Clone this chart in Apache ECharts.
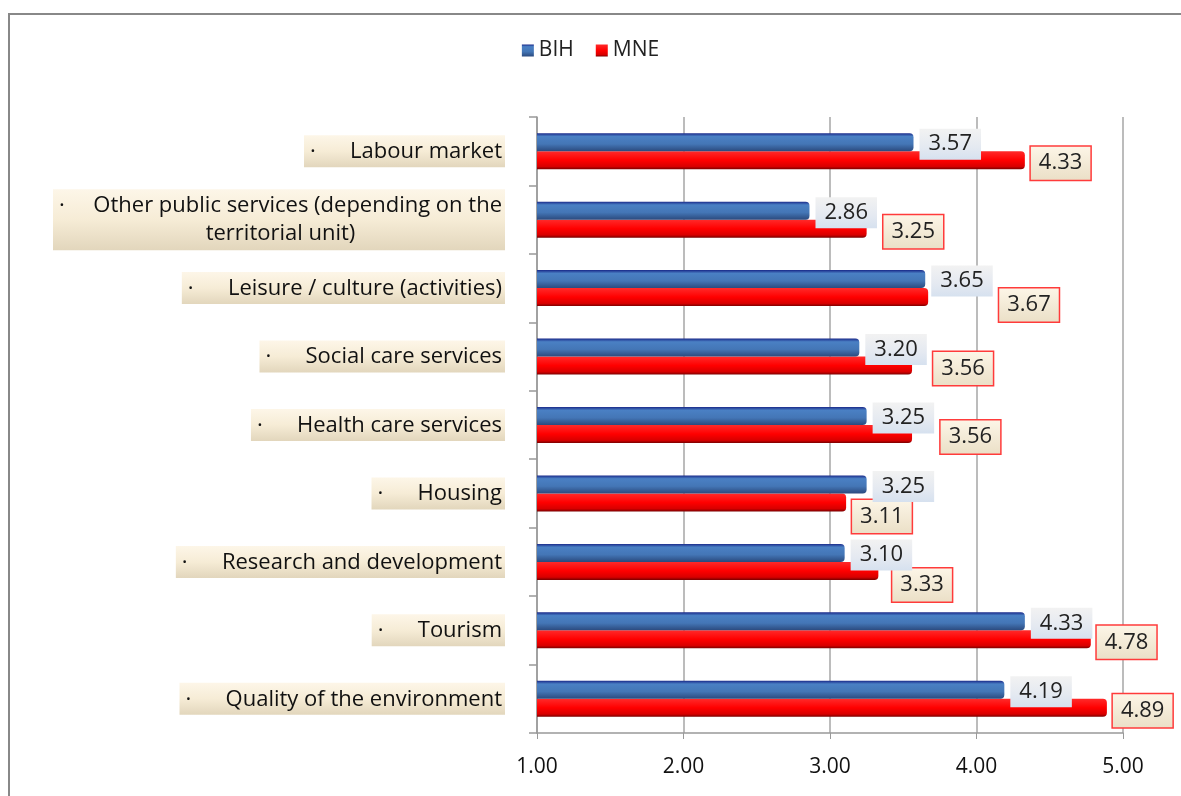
<!DOCTYPE html>
<html>
<head>
<meta charset="utf-8">
<script src="https://cdn.jsdelivr.net/npm/echarts@6/dist/echarts.min.js"></script>
<style>
  html, body { margin: 0; padding: 0; background: #fff; }
  #chart { width: 1181px; height: 796px; }
</style>
</head>
<body>
<div id="chart"></div>
<script>
// categories top to bottom
const categories = [
  'Labour market',
  'Other public services (depending on the territorial unit)',
  'Leisure / culture (activities)',
  'Social care services',
  'Health care services',
  'Housing',
  'Research and development',
  'Tourism',
  'Quality of the environment'
]
const bihValues = [3.57, 2.86, 3.65, 3.20, 3.25, 3.25, 3.10, 4.33, 4.19]
const mneValues = [4.33, 3.25, 3.67, 3.56, 3.56, 3.11, 3.33, 4.78, 4.89]
const xTicks = [1, 2, 3, 4, 5]

const font = 'Open Sans'
const gridLeft = 537
const gridRight = 58
const chartWidth = 1181
const chart = echarts.init(document.getElementById('chart'))

const grad = (stops) => new echarts.graphic.LinearGradient(0, 0, 0, 1,
  stops.map(([offset, color]) => ({offset, color})))

const bihColor = grad([[0, '#1a2a8a'], [0.18, '#4a80c4'], [0.6, '#4476b6'], [1, '#2b4a7e']])
const mneColor = grad([[0, '#ff2a2a'], [0.5, '#ff0000'], [0.85, '#d80000'], [1, '#7a0000']])

// Excel moved MNE labels that ran into the BIH label: down or to the right
const pxPerUnit = (chartWidth - gridLeft - gridRight) / (xTicks[xTicks.length - 1] - xTicks[0])
const mneData = mneValues.map((v, i) => {
  const diff = v - bihValues[i]
  const px = diff * pxPerUnit
  const item = {value: v}
  if (diff < 0) {
    item.label = {offset: [0, 14]}
  } else if (diff < 0.1) {
    item.label = {offset: [68 - px, 8]}
  } else if (diff < 0.3) {
    item.label = {offset: [8, 14]}
  } else if (diff < 0.45) {
    item.label = {offset: [68 - px, 3]}
  }
  return item
})

const option = {
  backgroundColor: '#fff',
  textStyle: {fontFamily: font},
  animation: false,
  graphic: [{
    type: 'rect',
    shape: {x: 9, y: 14, width: 1200, height: 800},
    style: {fill: 'none', stroke: '#888888', lineWidth: 2},
    silent: true
  }],
  legend: {
    top: 35,
    left: 'center',
    itemWidth: 12,
    itemHeight: 12,
    itemGap: 22,
    icon: 'rect',
    textStyle: {fontFamily: font, fontSize: 21, color: '#222'},
    data: ['BIH', 'MNE']
  },
  grid: {
    top: 117,
    left: gridLeft,
    right: gridRight,
    bottom: 63,
    containLabel: false
  },
  xAxis: {
    type: 'value',
    min: 1,
    max: 5,
    interval: 1,
    axisLine: {show: true, lineStyle: {color: '#999', width: 1.5}},
    axisTick: {show: true, length: 6, lineStyle: {color: '#999'}},
    splitLine: {lineStyle: {color: '#a6a6a6', width: 1.5}},
    axisLabel: {
      margin: 24,
      fontFamily: font,
      fontSize: 21,
      color: '#111',
      formatter: (v) => xTicks.includes(v) ? v.toFixed(2) : ''
    }
  },
  yAxis: {
    type: 'category',
    inverse: true,
    data: categories,
    axisLine: {show: true, lineStyle: {color: '#999', width: 1.5}},
    axisTick: {show: true, length: 8, lineStyle: {color: '#999', width: 1.5}},
    axisLabel: {
      margin: 32,
      fontFamily: font,
      fontSize: 22,
      color: '#111',
      backgroundColor: grad([[0, '#fdf6e8'], [0.5, '#f6ecd6'], [1, '#e2d6bc']]),
      padding: [3, 3, 2, 6],
      lineHeight: 27,
      formatter: (name) => {
        if (name.length > 45) {
          const cut = name.indexOf('territorial')
          return '{l|·     ' + name.slice(0, cut - 1) + '}\n{c|' + name.slice(cut) + '}'
        }
        return '·      ' + name
      },
      rich: {
        l: {fontFamily: font, fontSize: 22, color: '#111', lineHeight: 28},
        c: {fontFamily: font, fontSize: 22, color: '#111', lineHeight: 28, align: 'center'}
      }
    }
  },
  series: [
    {
      name: 'BIH',
      type: 'bar',
      z: 4,
      data: bihValues,
      barWidth: 18,
      barGap: '0%',
      barCategoryGap: '45%',
      itemStyle: {color: bihColor, borderRadius: [0, 4, 4, 0]},
      label: {
        show: true,
        position: 'right',
        distance: 6,
        offset: [0, 2],
        formatter: (p) => p.value.toFixed(2),
        fontFamily: font,
        fontSize: 22,
        color: '#222',
        backgroundColor: grad([[0, '#f2f2f2'], [0.6, '#e4e9f1'], [1, '#d6e1ef']]),
        padding: [5, 9, 4, 9]
      }
    },
    {
      name: 'MNE',
      type: 'bar',
      z: 2,
      data: mneData,
      barWidth: 18,
      itemStyle: {color: mneColor, borderRadius: [0, 4, 4, 0]},
      label: {
        show: true,
        position: 'right',
        distance: 6,
        offset: [0, 3],
        formatter: (p) => p.value.toFixed(2),
        fontFamily: font,
        fontSize: 22,
        color: '#222',
        backgroundColor: grad([[0, '#fdf6e8'], [1, '#eadfc6']]),
        borderColor: '#ff3b3b',
        borderWidth: 1.5,
        padding: [6, 8, 5, 8]
      }
    }
  ]
}

chart.setOption(option)
</script>
</body>
</html>
